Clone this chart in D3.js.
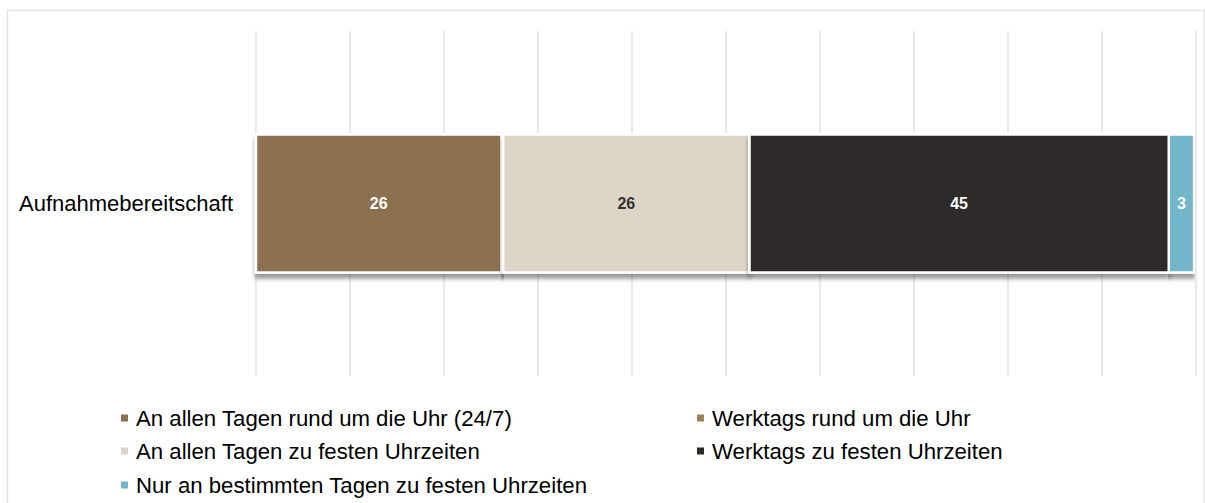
<!DOCTYPE html>
<html><head><meta charset="utf-8">
<script src="https://cdn.jsdelivr.net/npm/d3@7"></script>
<style>body{margin:0;background:#fff;font-family:Arial,"Liberation Sans",sans-serif}</style>
</head><body><svg id="c" width="1205" height="503"></svg>
<script>
const category = ["Aufnahmebereitschaft"];
const seriesNames = ["An allen Tagen rund um die Uhr (24/7)","Werktags rund um die Uhr","An allen Tagen zu festen Uhrzeiten","Werktags zu festen Uhrzeiten","Nur an bestimmten Tagen zu festen Uhrzeiten"];
const seriesValues = [26.1, 0.2, 26.2, 44.6, 2.7];
const seriesLabels = ["26", "", "26", "45", "3"];
const xTicks = [0,10,20,30,40,50,60,70,80,90,100];
const colors = ["#8B7150","#9C8158","#DDD5C5","#2E2A29","#73B5C9"];
const labelColors = ["#fff","#fff","#333","#fff","#fff"];

const svg = d3.select("#c");
const defs = svg.append("defs");
const f = defs.append("filter").attr("id","sh").attr("x","-2%").attr("y","-20%").attr("width","104%").attr("height","150%");
f.append("feDropShadow").attr("dx",0).attr("dy",5).attr("stdDeviation",2).attr("flood-color","#000").attr("flood-opacity",0.4);

// outer border
svg.append("path").attr("d","M7.5,503 V10.5 H1204.5 V503").attr("fill","none").attr("stroke","#e4e4e4").attr("stroke-width",1.5);

const x = d3.scaleLinear().domain([0,100]).range([256,1196]);
const y = d3.scaleBand().domain(category).range([31,376]).paddingInner(0.6).paddingOuter(0.3);

// grid
svg.append("g").selectAll("line").data(xTicks).join("line")
  .attr("x1",d=>x(d)).attr("x2",d=>x(d)).attr("y1",31).attr("y2",376)
  .attr("stroke","#e2e2e2").attr("stroke-width",1.5);

// stack
let acc = 0;
const segs = seriesValues.map((v,i)=>{const s={i,x0:acc,x1:acc+v,v}; acc+=v; return s;});
const band = y("Aufnahmebereitschaft");
const bh = y.bandwidth();
const g = svg.append("g");
g.selectAll("rect").data(segs).join("rect")
  .attr("x",d=>x(d.x0)).attr("width",d=>x(d.x1)-x(d.x0))
  .attr("y",band).attr("height",bh)
  .attr("fill",d=>colors[d.i]).attr("stroke","#fff").attr("stroke-width",2.5)
  .attr("filter","url(#sh)");
g.selectAll("text").data(segs).join("text")
  .attr("x",d=>(x(d.x0)+x(d.x1))/2).attr("y",band+bh/2)
  .attr("dy","0.35em").attr("text-anchor","middle")
  .style("font-size","16px").attr("font-weight","bold")
  .attr("fill",d=>labelColors[d.i]).text(d=>seriesLabels[d.i]);

// category axis label
svg.append("text").attr("x",19).attr("y",band+bh/2).attr("dy","0.35em")
  .style("font-size","22px").attr("fill","#000").text(category[0]);

// legend
const legPos = [[121,418],[697,418],[121,451],[697,451],[121,485]];
const lg = svg.append("g");
seriesNames.forEach((n,i)=>{
  const [lx,ly]=legPos[i];
  lg.append("rect").attr("x",lx).attr("y",ly-3.5).attr("width",7).attr("height",7).attr("fill",colors[i]);
  lg.append("text").attr("x",lx+15).attr("y",ly).attr("dy","0.35em").style("font-size","22.2px").attr("fill","#000").text(n);
});
</script></body></html>
